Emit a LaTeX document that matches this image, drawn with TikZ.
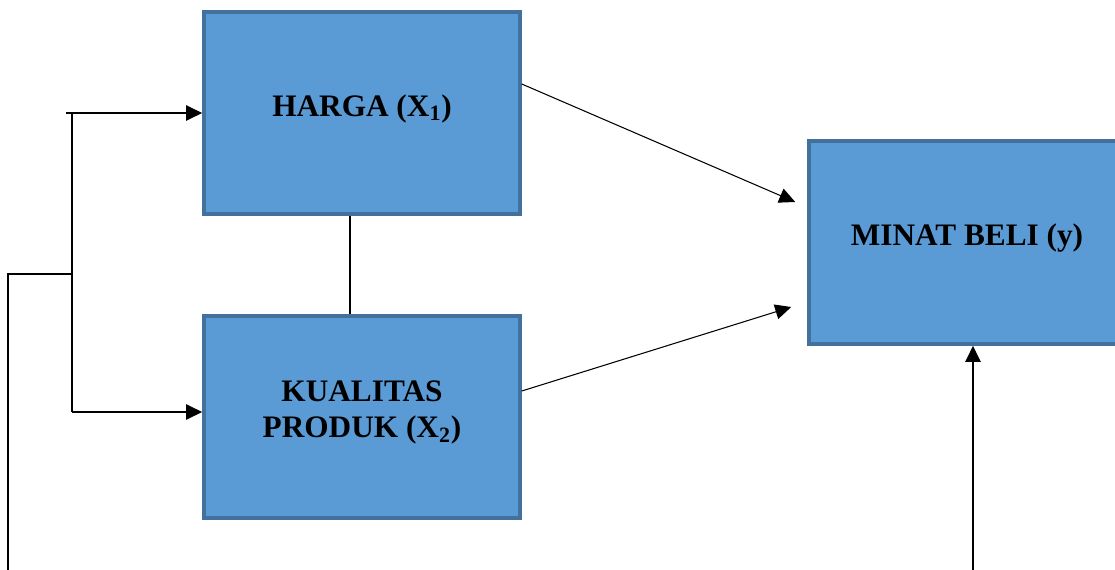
\documentclass[tikz,border=0pt]{standalone}
\usepackage{fontspec}
\setmainfont{Liberation Serif}
\usetikzlibrary{arrows.meta}
\definecolor{boxfill}{HTML}{5B9BD5}
\definecolor{boxline}{HTML}{41719C}
\tikzset{
  varbox/.style={draw=boxline, fill=boxfill, line width=2pt, rectangle,
    minimum width=6.32cm, minimum height=4.04cm, align=center, text depth=0.3cm,
    font=\fontsize{17.8}{20.5}\selectfont\bfseries},
  link/.style={draw, line width=1.1pt},
  flow/.style={draw, line width=0.6pt}
}
\begin{document}
\begin{tikzpicture}[>={Triangle[length=0.32cm,width=0.3cm]}]
\useasboundingbox (0,0) rectangle (22.3,-11.4);
\node[varbox] (harga) at (7.24,-2.26) {HARGA (X\textsubscript{1})};
\node[varbox] (kualitas) at (7.24,-8.34) {KUALITAS\\PRODUK (X\textsubscript{2})};
\node[varbox, minimum height=4.06cm] (minat) at (19.34,-4.85) {MINAT BELI (y)};
\coordinate (ltop) at (1.32,-2.26);
\coordinate (lup) at (1.44,-2.26);
\coordinate (lbot) at (1.44,-8.24);
\coordinate (ljoin) at (1.44,-5.48);
\coordinate (lend) at (0.16,-11.4);
\coordinate (rbot) at (19.46,-11.4);
\path[link,->] (ltop) -- (harga.west);
\path[link] (lup) -- (lbot);
\path[link,->] (lbot) -- (lbot -| kualitas.west);
\path[link] (lend) |- (ljoin);
\path[link] ([xshift=-0.24cm]harga.south) -- ([xshift=-0.24cm]kualitas.north);
\path[flow,->] ([yshift=0.58cm]harga.east) -- ([xshift=-0.24cm,yshift=0.81cm]minat.west);
\path[flow,->] ([yshift=0.52cm]kualitas.east) -- ([xshift=-0.32cm,yshift=-1.29cm]minat.west);
\path[link,->] (rbot) -- (rbot |- minat.south);
\end{tikzpicture}
\end{document}
